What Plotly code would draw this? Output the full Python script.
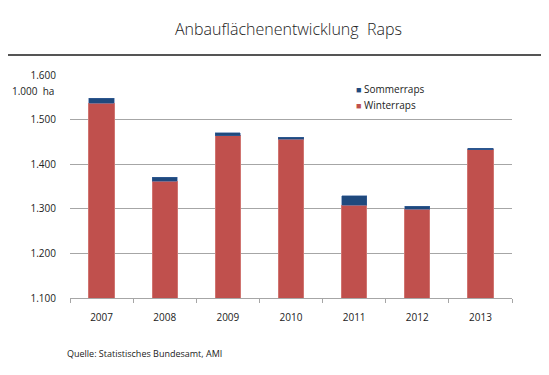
import plotly.graph_objects as go

years = ["2007", "2008", "2009", "2010", "2011", "2012", "2013"]
winterraps = [1537, 1362, 1464, 1456, 1308, 1299, 1432]
sommerraps = [11, 9, 7, 4, 21, 7, 4]
y_ticks = [1100, 1200, 1300, 1400, 1500, 1600]
y_tick_labels = ["1.100", "1.200", "1.300", "1.400", "1.500", "1.600"]
series_names = ["Winterraps", "Sommerraps"]
series_colors = ["#C0504D", "#1F497D"]

# page has an 8px body margin; figure drawn in page coordinates minus offset
OFF = 8
W, H = 549 - OFF, 375 - OFF
L, R, T, B = 70 - OFF, 37, 75 - OFF, 77
ph = H - T - B
pw = W - L - R

def py(pix):
    return (H - B - (pix - OFF)) / ph

def px(pix):
    return ((pix - OFF) - L) / pw

FONT = "Open Sans"
fig = go.Figure()
fig.add_trace(go.Bar(x=years, y=winterraps, name=series_names[0],
                     marker=dict(color=series_colors[0], line=dict(color="#D07470", width=1))))
fig.add_trace(go.Bar(x=years, y=sommerraps, name=series_names[1],
                     marker=dict(color=series_colors[1], line=dict(color="#3A64A0", width=0.5))))

legend_ann = []
for name, col, ypix in [(series_names[1], series_colors[1], 89),
                        (series_names[0], series_colors[0], 105)]:
    legend_ann.append(dict(
        text=f"<span style='color:{col};font-size:9px'>■</span> {name}",
        xref="paper", yref="paper", x=px(354), y=py(ypix),
        xanchor="left", yanchor="middle", showarrow=False,
        font=dict(size=10, color="#222222")))

fig.update_layout(
    width=W, height=H,
    margin=dict(l=L, r=R, t=T, b=B),
    barmode="stack", bargap=0.6,
    plot_bgcolor="white", paper_bgcolor="white",
    font=dict(family=FONT, size=10, color="#222222"),
    showlegend=False,
    xaxis=dict(type="category", showline=True, linecolor="#A6A6A6", linewidth=1,
               ticks="outside", tickson="boundaries", ticklen=4, tickcolor="#A6A6A6",
               tickfont=dict(size=10), ticklabelstandoff=10),
    yaxis=dict(range=[1100, 1600], tickvals=y_ticks, ticktext=y_tick_labels,
               showgrid=True, gridcolor="#A6A6A6", gridwidth=1.3,
               zeroline=False, showline=False, ticks="", tickfont=dict(size=10),
               ticklabelstandoff=13),
    shapes=[dict(type="line", xref="paper", yref="paper",
                 x0=px(-10), x1=px(W + 20), y0=py(55), y1=py(55),
                 line=dict(color="#555555", width=2))],
    annotations=[
        dict(text="Anbauflächenentwicklung  Raps", xref="paper", yref="paper",
             x=px(288), y=py(29), xanchor="center", yanchor="middle",
             showarrow=False, font=dict(size=16, color="#222222", family=FONT, weight=300)),
        dict(text="1.000  ha", xref="paper", yref="paper",
             x=px(56), y=py(91), xanchor="right", yanchor="middle",
             showarrow=False, font=dict(size=10)),
        dict(text="Quelle: Statistisches Bundesamt, AMI", xref="paper", yref="paper",
             x=px(65), y=py(353), xanchor="left", yanchor="middle",
             showarrow=False, font=dict(size=9)),
    ] + legend_ann,
)

fig.write_html("out.html")
